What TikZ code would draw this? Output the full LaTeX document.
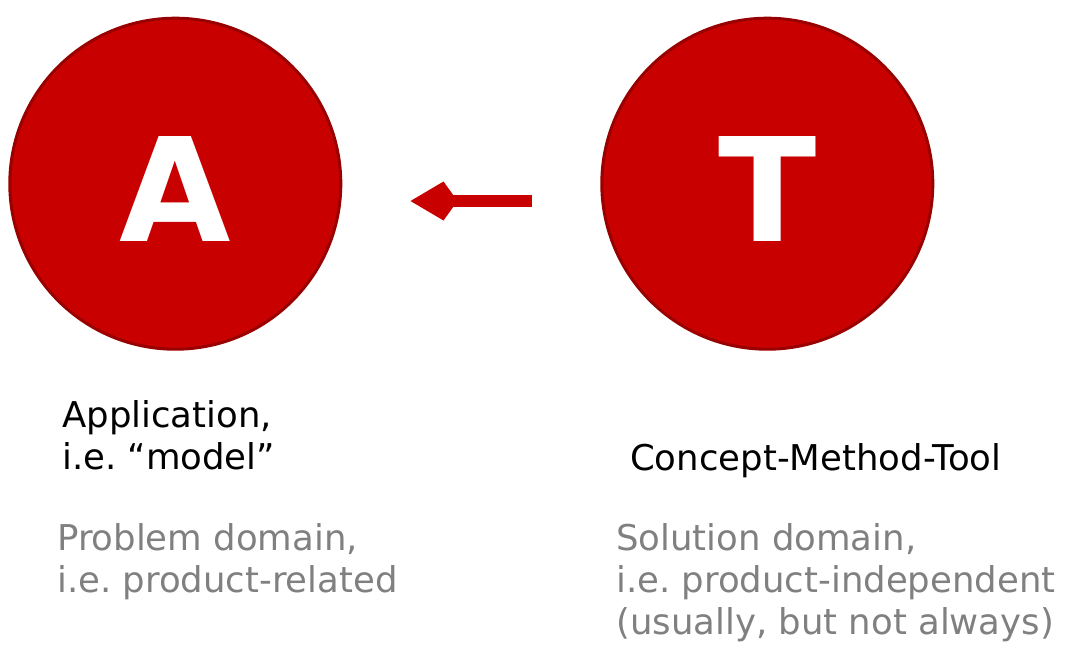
\documentclass[tikz,border=0pt]{standalone}
\usepackage{fontspec}
\setmainfont{DejaVu Sans}
\usetikzlibrary{arrows.meta}
\definecolor{circfill}{HTML}{C80000}
\definecolor{circedge}{HTML}{990000}
\definecolor{domgray}{HTML}{808080}
\frenchspacing

\begin{document}
\begin{tikzpicture}[x=1pt,y=-1pt,
  bigcirc/.style={circle,fill=circfill,draw=circedge,line width=3pt,
    minimum size=331pt,inner sep=0pt,text=white,
    font=\fontsize{144}{144}\selectfont\bfseries,text height=116pt,text depth=0pt},
  labeltext/.style={anchor=base west,inner sep=0pt,align=left,
    font=\fontsize{35.5}{42}\selectfont},
  domtext/.style={labeltext,text=domgray},
  arrowline/.style={circfill,line width=12pt,
    -{Kite[length=47pt,width=39pt,inset=14pt,line width=0pt]}}]
  \useasboundingbox (0,0) rectangle (1067,651);
  \node[bigcirc] (circA) at (175.3,183.7) {A};
  \node[bigcirc] (circT) at (767.3,183.7) {T};
  \coordinate (arrowstart) at (531.7,201);
  \coordinate (arrowtip) at (410.5,201);
  \draw[arrowline] (arrowstart) -- (arrowtip);
  % base anchor of a multi-line node sits on its last line
  \node[labeltext] (labelA) at (62,469) {Application,\\i.e. “model”};
  \node[labeltext] (labelT) at (630,470) {Concept-Method-Tool};
  \node[domtext] (domA) at (57,592.5) {Problem domain,\\i.e. product-related};
  \node[domtext] (domT) at (616,634.5) {Solution domain,\\i.e. product-independent\\(usually, but not always)};
\end{tikzpicture}
\end{document}
